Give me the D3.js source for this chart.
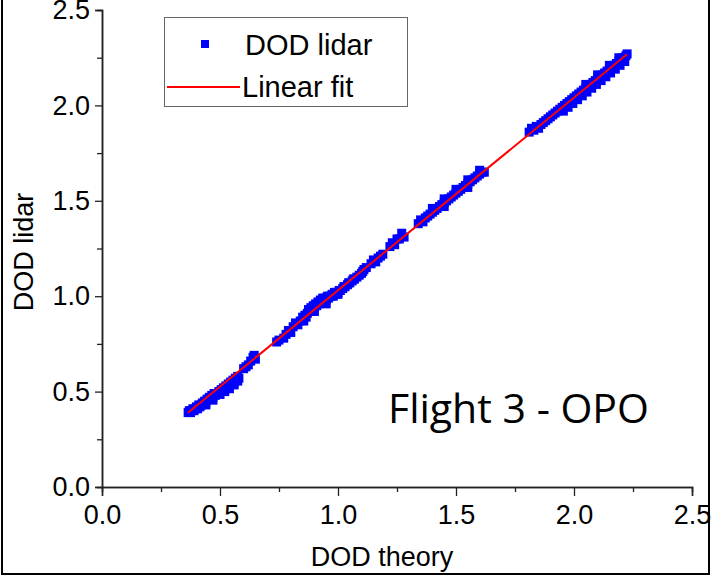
<!DOCTYPE html>
<html>
<head>
<meta charset="utf-8">
<title>Flight 3 - OPO</title>
<script src="https://d3js.org/d3.v7.min.js"></script>
<style>
  body { margin: 0; background: #fff; }
  text { font-family: "Liberation Sans", Arial, sans-serif; fill: #000; }
</style>
</head>
<body>
<script>
  // DOD theory vs DOD lidar
  const points = [
    [0.365,0.39],[0.37,0.40],[0.375,0.39],[0.38,0.40],[0.385,0.41],[0.39,0.40],[0.395,0.41],[0.40,0.42],
    [0.405,0.41],[0.41,0.43],[0.415,0.42],[0.42,0.43],[0.425,0.44],[0.43,0.44],[0.435,0.45],[0.44,0.44],
    [0.445,0.46],[0.45,0.46],[0.455,0.47],[0.46,0.46],[0.465,0.48],[0.47,0.47],[0.475,0.49],[0.48,0.48],
    [0.485,0.49],[0.49,0.49],[0.495,0.50],[0.50,0.50],[0.505,0.51],[0.51,0.51],[0.515,0.52],[0.52,0.51],
    [0.525,0.53],[0.53,0.52],[0.535,0.54],[0.54,0.53],[0.545,0.55],[0.55,0.54],[0.555,0.56],[0.56,0.55],
    [0.565,0.57],[0.57,0.56],[0.575,0.58],[0.58,0.57],
    [0.44,0.43],[0.47,0.455],[0.50,0.485],[0.52,0.50],[0.54,0.515],[0.56,0.535],[0.575,0.555],
    [0.60,0.62],[0.61,0.63],[0.62,0.64],[0.63,0.66],[0.64,0.68],[0.645,0.69],[0.65,0.67],
    [0.74,0.76],[0.75,0.77],[0.77,0.78],[0.78,0.80],[0.79,0.82],[0.80,0.81],[0.81,0.84],[0.82,0.86],[0.83,0.85],
    [0.84,0.87],[0.85,0.89],[0.855,0.87],[0.86,0.90],[0.865,0.89],[0.87,0.91],[0.875,0.93],[0.88,0.92],
    [0.885,0.94],[0.89,0.93],[0.895,0.95],[0.90,0.94],[0.905,0.96],[0.91,0.95],[0.915,0.97],[0.92,0.96],
    [0.925,0.98],[0.93,0.97],[0.935,0.99],[0.94,0.97],[0.945,0.99],[0.95,0.98],[0.955,1.00],[0.96,0.99],
    [0.965,1.00],[0.97,1.00],[0.975,1.01],[0.98,1.00],[0.985,1.02],[0.99,1.01],[0.995,1.02],[1.00,1.02],
    [1.005,1.03],[1.01,1.03],[1.02,1.04],[1.025,1.05],[1.03,1.05],[1.04,1.06],[1.045,1.07],[1.05,1.07],
    [1.06,1.08],[1.065,1.09],[1.07,1.09],[1.08,1.10],[1.09,1.11],[1.10,1.12],[1.105,1.13],[1.11,1.14],[1.12,1.15],
    [0.90,0.92],[0.95,0.96],[1.00,1.01],
    [1.14,1.17],[1.15,1.19],[1.16,1.18],[1.17,1.20],[1.18,1.21],[1.19,1.22],
    [1.22,1.26],[1.23,1.28],[1.24,1.27],[1.25,1.30],[1.26,1.30],[1.27,1.33],[1.28,1.31],
    [1.34,1.38],[1.35,1.40],[1.36,1.39],[1.37,1.41],[1.38,1.42],[1.39,1.43],[1.40,1.44],[1.41,1.45],
    [1.42,1.46],[1.43,1.47],[1.44,1.48],[1.45,1.49],[1.46,1.50],[1.47,1.51],[1.48,1.52],[1.49,1.53],
    [1.50,1.54],[1.51,1.55],[1.52,1.56],[1.53,1.57],[1.54,1.58],[1.55,1.59],[1.56,1.60],[1.57,1.61],
    [1.58,1.62],[1.59,1.63],[1.60,1.64],[1.61,1.65],[1.62,1.65],
    [1.40,1.46],[1.45,1.51],[1.50,1.56],[1.55,1.61],[1.60,1.66],[1.45,1.47],[1.55,1.57],
    [1.81,1.86],[1.82,1.88],[1.83,1.87],[1.84,1.89],[1.85,1.88],[1.86,1.90],[1.87,1.91],[1.88,1.92],
    [1.89,1.93],[1.90,1.94],[1.91,1.95],[1.92,1.96],
    [1.93,1.97],[1.94,1.98],[1.95,1.99],[1.955,1.97],[1.96,2.00],[1.97,2.01],[1.975,1.99],[1.98,2.02],
    [1.99,2.03],[1.995,2.01],[2.00,2.04],[2.01,2.05],[2.015,2.03],[2.02,2.06],[2.03,2.07],[2.035,2.05],
    [2.04,2.08],[2.05,2.09],[2.055,2.07],[2.06,2.10],[2.07,2.11],[2.075,2.09],[2.08,2.12],[2.09,2.13],
    [2.095,2.11],[2.10,2.14],[2.11,2.15],[2.115,2.13],[2.12,2.16],[2.13,2.17],[2.135,2.15],[2.14,2.18],
    [2.15,2.19],[2.155,2.17],[2.16,2.20],[2.17,2.21],[2.175,2.19],[2.18,2.22],[2.19,2.23],[2.195,2.21],
    [2.20,2.24],[2.21,2.25],[2.215,2.23],[2.22,2.26],[2.225,2.27],
    [2.05,2.11],[2.10,2.16],[2.15,2.21],[2.19,2.25]
  ];

  // linear fit: lidar = slope * theory + intercept, over the data range
  const fitSlope = 1.01;
  const fitIntercept = 0.021;
  const fitRange = [0.364, 2.225];

  const majorTicks = [0, 0.5, 1.0, 1.5, 2.0, 2.5];
  const minorTicks = [0.25, 0.75, 1.25, 1.75, 2.25];
  const legendLabels = ['DOD lidar', 'Linear fit'];
  const xTitle = 'DOD theory';
  const yTitle = 'DOD lidar';
  const note = 'Flight 3 - OPO';

  const W = 712, H = 577;
  const svg = d3.select('body').append('svg')
    .attr('width', W)
    .attr('height', H);

  const x = d3.scaleLinear().domain([0, 2.5]).range([102, 692]);
  const y = d3.scaleLinear().domain([0, 2.5]).range([487, 10]);

  // outer frame (top edge is cropped in the original)
  svg.append('path')
    .attr('d', `M2,0 V${H - 3} H${W - 3} V0`)
    .attr('fill', 'none')
    .attr('stroke', '#000')
    .attr('stroke-width', 2);

  // axes
  const fmt = d3.format('.1f');
  svg.append('g').attr('transform', `translate(0,${y(0)})`)
    .call(d3.axisBottom(x).tickValues(majorTicks).tickFormat(fmt).tickSize(9).tickPadding(9));
  svg.append('g').attr('transform', `translate(0,${y(0)})`)
    .call(d3.axisBottom(x).tickValues(minorTicks).tickFormat('').tickSize(5));

  svg.append('g').attr('transform', `translate(${x(0)},0)`)
    .call(d3.axisLeft(y).tickValues(majorTicks).tickFormat(fmt).tickSize(7).tickPadding(5));
  svg.append('g').attr('transform', `translate(${x(0)},0)`)
    .call(d3.axisLeft(y).tickValues(minorTicks).tickFormat('').tickSize(5));

  svg.selectAll('.domain').attr('stroke', '#222').attr('stroke-width', 1.5);
  svg.selectAll('.tick line').attr('stroke', '#222').attr('stroke-width', 1.3);
  svg.selectAll('.tick text')
    .style('font-family', '"Liberation Sans", Arial, sans-serif')
    .style('font-size', '27px')
    .attr('fill', '#000');

  // axis titles
  svg.append('text')
    .attr('x', 382).attr('y', 566)
    .attr('text-anchor', 'middle')
    .style('font-size', '27px')
    .text(xTitle);

  svg.append('text')
    .attr('transform', 'translate(33,252) rotate(-90)')
    .attr('text-anchor', 'middle')
    .style('font-size', '27px')
    .text(yTitle);

  // scatter
  const ms = 9;
  svg.append('g').selectAll('rect')
    .data(points)
    .join('rect')
    .attr('x', d => x(d[0]) - ms / 2)
    .attr('y', d => y(d[1]) - ms / 2)
    .attr('width', ms)
    .attr('height', ms)
    .attr('fill', '#0000ff');

  // fit line
  svg.append('line')
    .attr('x1', x(fitRange[0]))
    .attr('y1', y(fitSlope * fitRange[0] + fitIntercept))
    .attr('x2', x(fitRange[1]))
    .attr('y2', y(fitSlope * fitRange[1] + fitIntercept))
    .attr('stroke', '#ff0000')
    .attr('stroke-width', 2);

  // legend
  const lg = svg.append('g');
  lg.append('rect')
    .attr('x', 164.5).attr('y', 17.5)
    .attr('width', 243).attr('height', 89)
    .attr('fill', '#fff')
    .attr('stroke', '#666')
    .attr('stroke-width', 1);
  lg.append('rect')
    .attr('x', 201).attr('y', 40)
    .attr('width', 8).attr('height', 8)
    .attr('fill', '#0000ff');
  lg.append('line')
    .attr('x1', 167).attr('x2', 240)
    .attr('y1', 87).attr('y2', 87)
    .attr('stroke', '#ff0000')
    .attr('stroke-width', 2);
  lg.selectAll('text.lab')
    .data(legendLabels)
    .join('text')
    .attr('class', 'lab')
    .attr('x', (d, i) => i === 0 ? 245 : 242)
    .attr('y', (d, i) => i === 0 ? 55 : 97)
    .style('font-size', '29px')
    .text(d => d);

  // annotation
  svg.append('text')
    .attr('x', 388).attr('y', 423)
    .style('font-family', '"Open Sans", "Noto Sans", sans-serif')
    .style('font-size', '41px')
    .text(note);
</script>
</body>
</html>
